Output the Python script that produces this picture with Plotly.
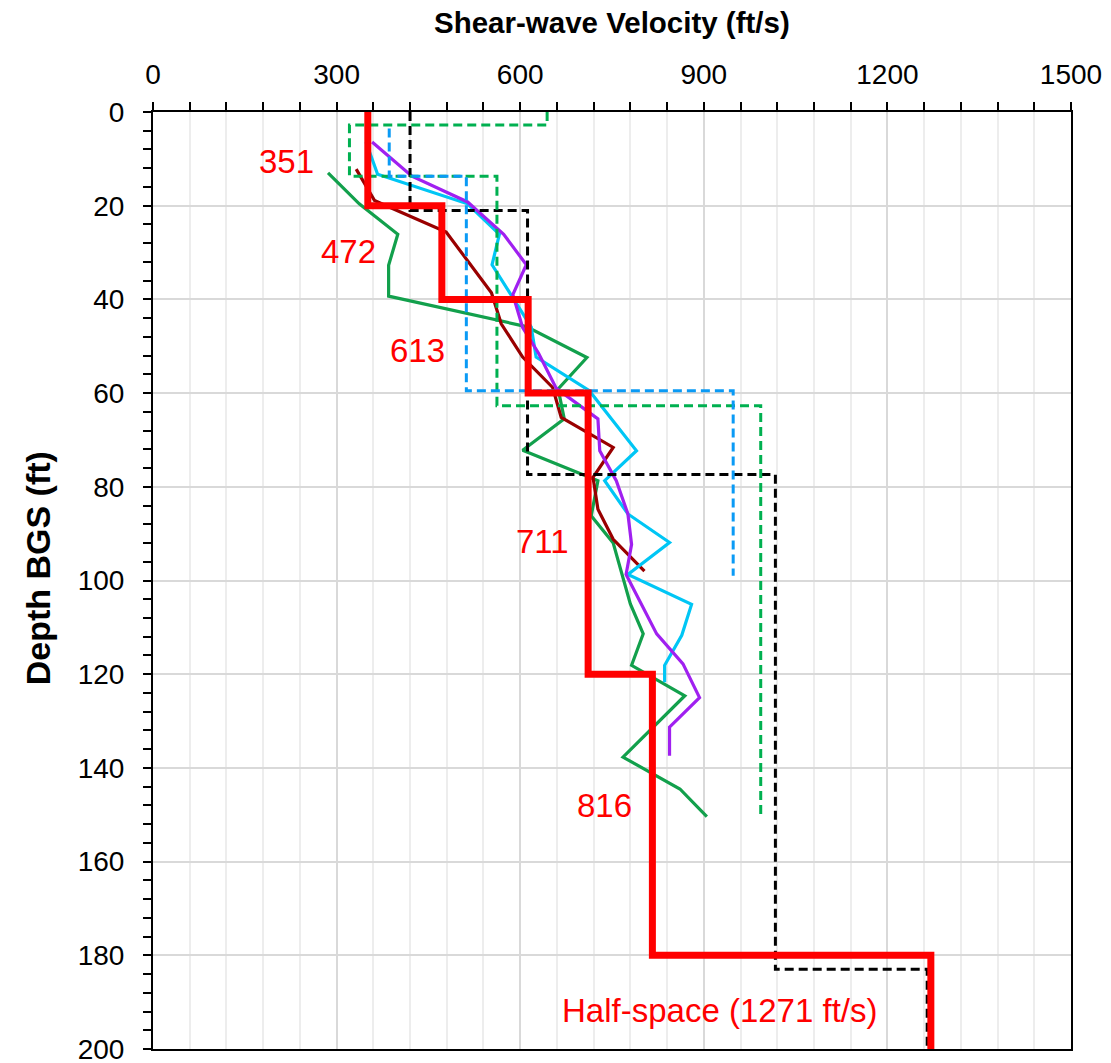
import plotly.graph_objects as go

# ---- Recommended layered profile (ft/s) ----
rec_vs = [351, 472, 613, 711, 816, 1271]
rec_depth = [0, 20, 40, 60, 120, 180, 200]
rec_labels = ["351", "472", "613", "711", "816", "Half-space (1271 ft/s)"]

# ---- Inverted layered profiles (dashed) ----
black_vs = [420, 612, 1017, 1265]
black_depth = [0, 21, 77.4, 183, 200]

green_vs = [644, 321, 562, 993]
green_depth = [0, 2.8, 13.7, 62.7, 150.2]

blue_vs = [386, 512, 948]
blue_depth = [3.5, 13.7, 59.5, 99]

# ---- Measured profiles (solid) ----
purple_vs = [358, 423, 514, 573, 610, 588, 604, 630, 659, 727, 730, 757, 776, 782,
             773, 823, 866, 893, 844, 844]
purple_depth = [6.4, 13.7, 19.2, 26.1, 32.6, 39, 46, 51.5, 59, 65.5, 72.3, 78.7, 85.8,
                92.3, 98.7, 111.4, 117.8, 125, 131.3, 137.4]

cyan_vs = [348, 367, 514, 566, 554, 618, 626, 713, 790, 738, 776, 844, 776, 880, 864,
           836, 836]
cyan_depth = [6.4, 13.3, 19.6, 26.1, 32.6, 45.9, 52.3, 59.5, 72.3, 78.7, 85.8, 91.9,
              98.7, 105.1, 111.7, 118.1, 121.7]

darkred_vs = [332, 362, 381, 479, 553, 569, 604, 653, 667, 752, 719, 727, 752, 803]
darkred_depth = [12.2, 18.9, 20, 25.6, 38.6, 45.2, 52.3, 58.8, 65.2, 71.6, 78, 84.8,
                 91.2, 98]

gsolid_vs = [286, 337, 400, 385, 385, 610, 709, 662, 672, 604, 727, 716, 752, 780, 801,
             782, 869, 768, 861, 905]
gsolid_depth = [13, 19.6, 26.1, 32.7, 39.3, 45.8, 52.4, 59.1, 65.5, 72.2, 78.7, 86.2,
                92, 105, 111.4, 118.1, 124.6, 137.7, 144.5, 150.4]

# label anchor positions (velocity, depth)
label_x = [218, 320, 432, 637, 738, 925]
label_y = [10.6, 29.7, 50.8, 91.7, 148, 191.7]

FONT = "Liberation Sans, Arial, sans-serif"


def step(vs, bounds):
    """Turn layer velocities and layer boundaries into a stair-step polyline."""
    xs, ys = [], []
    for i, v in enumerate(vs):
        xs += [v, v]
        ys += [bounds[i], bounds[i + 1]]
    return xs, ys


fig = go.Figure()

# measured profiles
for xs, ys, col in [
    (gsolid_vs, gsolid_depth, "#12A04C"),
    (darkred_vs, darkred_depth, "#990000"),
    (cyan_vs, cyan_depth, "#00C6F5"),
    (purple_vs, purple_depth, "#A020F0"),
]:
    fig.add_trace(go.Scatter(x=xs, y=ys, mode="lines",
                             line=dict(color=col, width=3.2), hoverinfo="skip"))

# layered inversion profiles
for vs, bd, col in [
    (black_vs, black_depth, "#000000"),
    (green_vs, green_depth, "#00B050"),
    (blue_vs, blue_depth, "#0A9AF5"),
]:
    xs, ys = step(vs, bd)
    fig.add_trace(go.Scatter(x=xs, y=ys, mode="lines",
                             line=dict(color=col, width=3, dash="9px,5px"),
                             hoverinfo="skip"))

# recommended profile on top
rx, ry = step(rec_vs, rec_depth)
fig.add_trace(go.Scatter(x=rx, y=ry, mode="lines",
                         line=dict(color="#FF0000", width=7), hoverinfo="skip"))

for txt, lx, ly in zip(rec_labels, label_x, label_y):
    fig.add_annotation(x=lx, y=ly, text=txt, showarrow=False,
                       xanchor="center", yanchor="middle",
                       font=dict(family=FONT, size=33, color="#FF0000"))

# axis titles
fig.add_annotation(xref="paper", yref="paper", x=0.5, y=1 + 90 / 937,
                   text="<b>Shear-wave Velocity (ft/s)</b>", showarrow=False,
                   xanchor="center", yanchor="middle",
                   font=dict(family=FONT, size=29.5, color="#000000"))
fig.add_annotation(xref="paper", yref="paper", x=-115 / 918, y=0.513,
                   text="<b>Depth BGS (ft)</b>", showarrow=False, textangle=-90,
                   xanchor="center", yanchor="middle",
                   font=dict(family=FONT, size=34, color="#000000"))

fig.update_layout(
    width=1111, height=1063,
    margin=dict(l=153, r=40, t=112, b=14, autoexpand=False),
    plot_bgcolor="white", paper_bgcolor="white",
    showlegend=False,
    font=dict(family=FONT, color="#000000"),
)

fig.update_xaxes(
    side="top", range=[0, 1500], dtick=300, tick0=0, automargin=False,
    showline=True, linecolor="#000000", linewidth=2, mirror=True,
    ticks="outside", ticklen=8, tickwidth=2, tickcolor="#000000",
    tickfont=dict(family=FONT, size=28, color="#000000"),
    ticklabelstandoff=7, ticklabeloverflow="allow",
    showgrid=True, gridcolor="#d9d9d9", gridwidth=2, zeroline=False,
    minor=dict(dtick=60, ticks="outside", ticklen=8, tickwidth=2,
               tickcolor="#000000", showgrid=True, gridcolor="#ededed",
               gridwidth=2),
)
fig.update_yaxes(
    range=[200, 0], dtick=20, tick0=0, automargin=False,
    showline=True, linecolor="#000000", linewidth=2, mirror=True,
    ticks="outside", ticklen=8, tickwidth=2, tickcolor="#000000",
    tickfont=dict(family=FONT, size=28, color="#000000"),
    ticklabelstandoff=13, ticklabeloverflow="allow",
    showgrid=True, gridcolor="#d9d9d9", gridwidth=2, zeroline=False,
    minor=dict(dtick=4, ticks="outside", ticklen=8, tickwidth=2,
               tickcolor="#000000", showgrid=False),
)

fig.write_html("out.html")
